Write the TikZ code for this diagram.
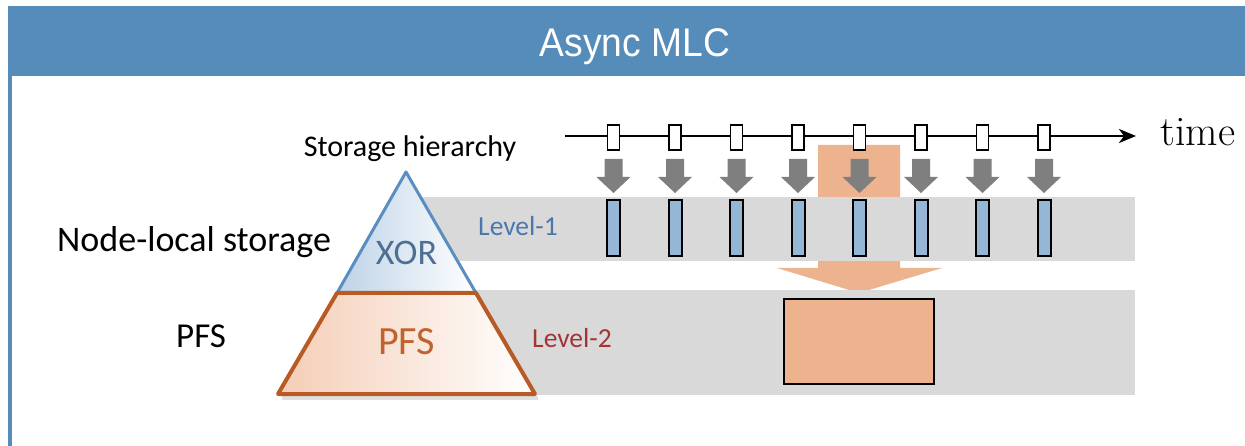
\documentclass[tikz,border=0pt]{standalone}
\usepackage{fontspec}
\newfontfamily\calfont{Carlito}
\newfontfamily\titlefont[FakeStretch=0.93]{Liberation Sans}
\usetikzlibrary{arrows.meta}
\definecolor{barblue}{HTML}{568CBA}
\definecolor{bandgray}{HTML}{D9D9D9}
\definecolor{ckptblue}{HTML}{95B6D4}
\definecolor{flushorange}{HTML}{EDB38F}
\definecolor{arrowgray}{HTML}{7F7F7F}
\definecolor{xorline}{HTML}{5B8EC0}
\definecolor{xorleft}{HTML}{BDD3E7}
\definecolor{pfsline}{HTML}{B85A24}
\definecolor{pfsleft}{HTML}{F4CDB6}
\definecolor{xortext}{HTML}{4E6F92}
\definecolor{pfstext}{HTML}{C0622D}
\definecolor{lvlone}{HTML}{4A78AC}
\definecolor{lvltwo}{HTML}{A33436}
\tikzset{
  tickbox/.style={draw=black, line width=1.5pt, fill=white, minimum width=12pt, minimum height=25pt, inner sep=0pt},
  ckptbar/.style={draw=black, line width=2pt, fill=ckptblue, minimum width=13pt, minimum height=56pt, inner sep=0pt},
  txt/.style={inner sep=0pt, font=\calfont\fontsize{#1}{#1}\selectfont},
}
\begin{document}
\begin{tikzpicture}[x=1pt,y=-1pt]
  \useasboundingbox (0,0) rectangle (1245,446);
  \fill[white] (0,0) rectangle (1245,446);
  % header bar
  \fill[barblue] (8,6) rectangle (1245,76);
  \draw[barblue, line width=4pt] (10,76) -- (10,446);
  \node[anchor=base, inner sep=0pt, text=white, font=\titlefont\fontsize{40}{40}\selectfont] (title) at (635,57) {Async MLC};
  % flush arrow to level 2
  \fill[flushorange] (818,145) -- (900,145) -- (900,268) -- (942,268) -- (859,293) -- (777,268) -- (818,268) -- cycle;
  % storage levels
  \fill[bandgray] (406,197) rectangle (1135,261);
  \fill[bandgray] (440,290) rectangle (1135,395);
  % pyramid
  \coordinate (apex) at (406,172);
  \coordinate (midL) at (337,293);
  \coordinate (midR) at (476,293);
  \coordinate (baseL) at (278,394);
  \coordinate (baseR) at (535,394);
  \fill[black, opacity=.12] ([shift={(4,2)}]baseL) -- ([shift={(3,2)}]baseR) -- ([shift={(3,6)}]baseR) -- ([shift={(4,6)}]baseL) -- cycle;
  \shade[left color=xorleft, right color=white] (apex) -- (midR) -- (midL) -- cycle;
  \draw[xorline, line width=3pt, line join=round] (midL) -- (apex) -- (midR);
  \shade[left color=pfsleft, right color=white] (midL) -- (midR) -- (baseR) -- (baseL) -- cycle;
  \draw[pfsline, line width=4pt, line join=round] (midL) -- (midR) -- (baseR) -- (baseL) -- cycle;
  \node[txt=36, anchor=base, text=xortext] (xor) at (406.5,265) {XOR};
  \node[txt=40, anchor=base, text=pfstext] (pfs) at (406.5,355) {PFS};
  % labels
  \node[txt=30, anchor=base] (hier) at (410,157) {Storage hierarchy};
  \node[txt=36, anchor=base west] (nls) at (57,252) {Node-local storage};
  \node[txt=35, anchor=base west] (pfsname) at (176,347) {PFS};
  \node[txt=27.5, anchor=base west, text=lvlone] (lvl1) at (478,236) {Level-1};
  \node[txt=27.5, anchor=base west, text=lvltwo] (lvl2) at (532,348) {Level-2};
  % timeline
  \coordinate (tstart) at (565,136);
  \coordinate (tend) at (1136,136);
  \draw[line width=2.5pt, -{Stealth[length=17pt,width=14pt,inset=5pt]}] (tstart) -- (tend);
  \node[anchor=base west, inner sep=0pt, font=\fontsize{42}{42}\selectfont] (time) at (1160,146) {time};
  % checkpoints
  \foreach \i/\x in {1/613.5,2/675,3/736.5,4/798,5/859.5,6/921,7/982.5,8/1044} {
    \fill[arrowgray] (\x-9,159) -- (\x+9,159) -- (\x+9,177) -- (\x+17,177) -- (\x,193) -- (\x-17,177) -- (\x-9,177) -- cycle;
    \node[tickbox] (t\i) at (\x,137.5) {};
    \node[ckptbar] (c\i) at (\x,228.5) {};
  }
  \node[draw=black, line width=1.5pt, fill=flushorange, minimum width=150pt, minimum height=85pt, inner sep=0pt] (l2ckpt) at (859,341.5) {};
\end{tikzpicture}
\end{document}
